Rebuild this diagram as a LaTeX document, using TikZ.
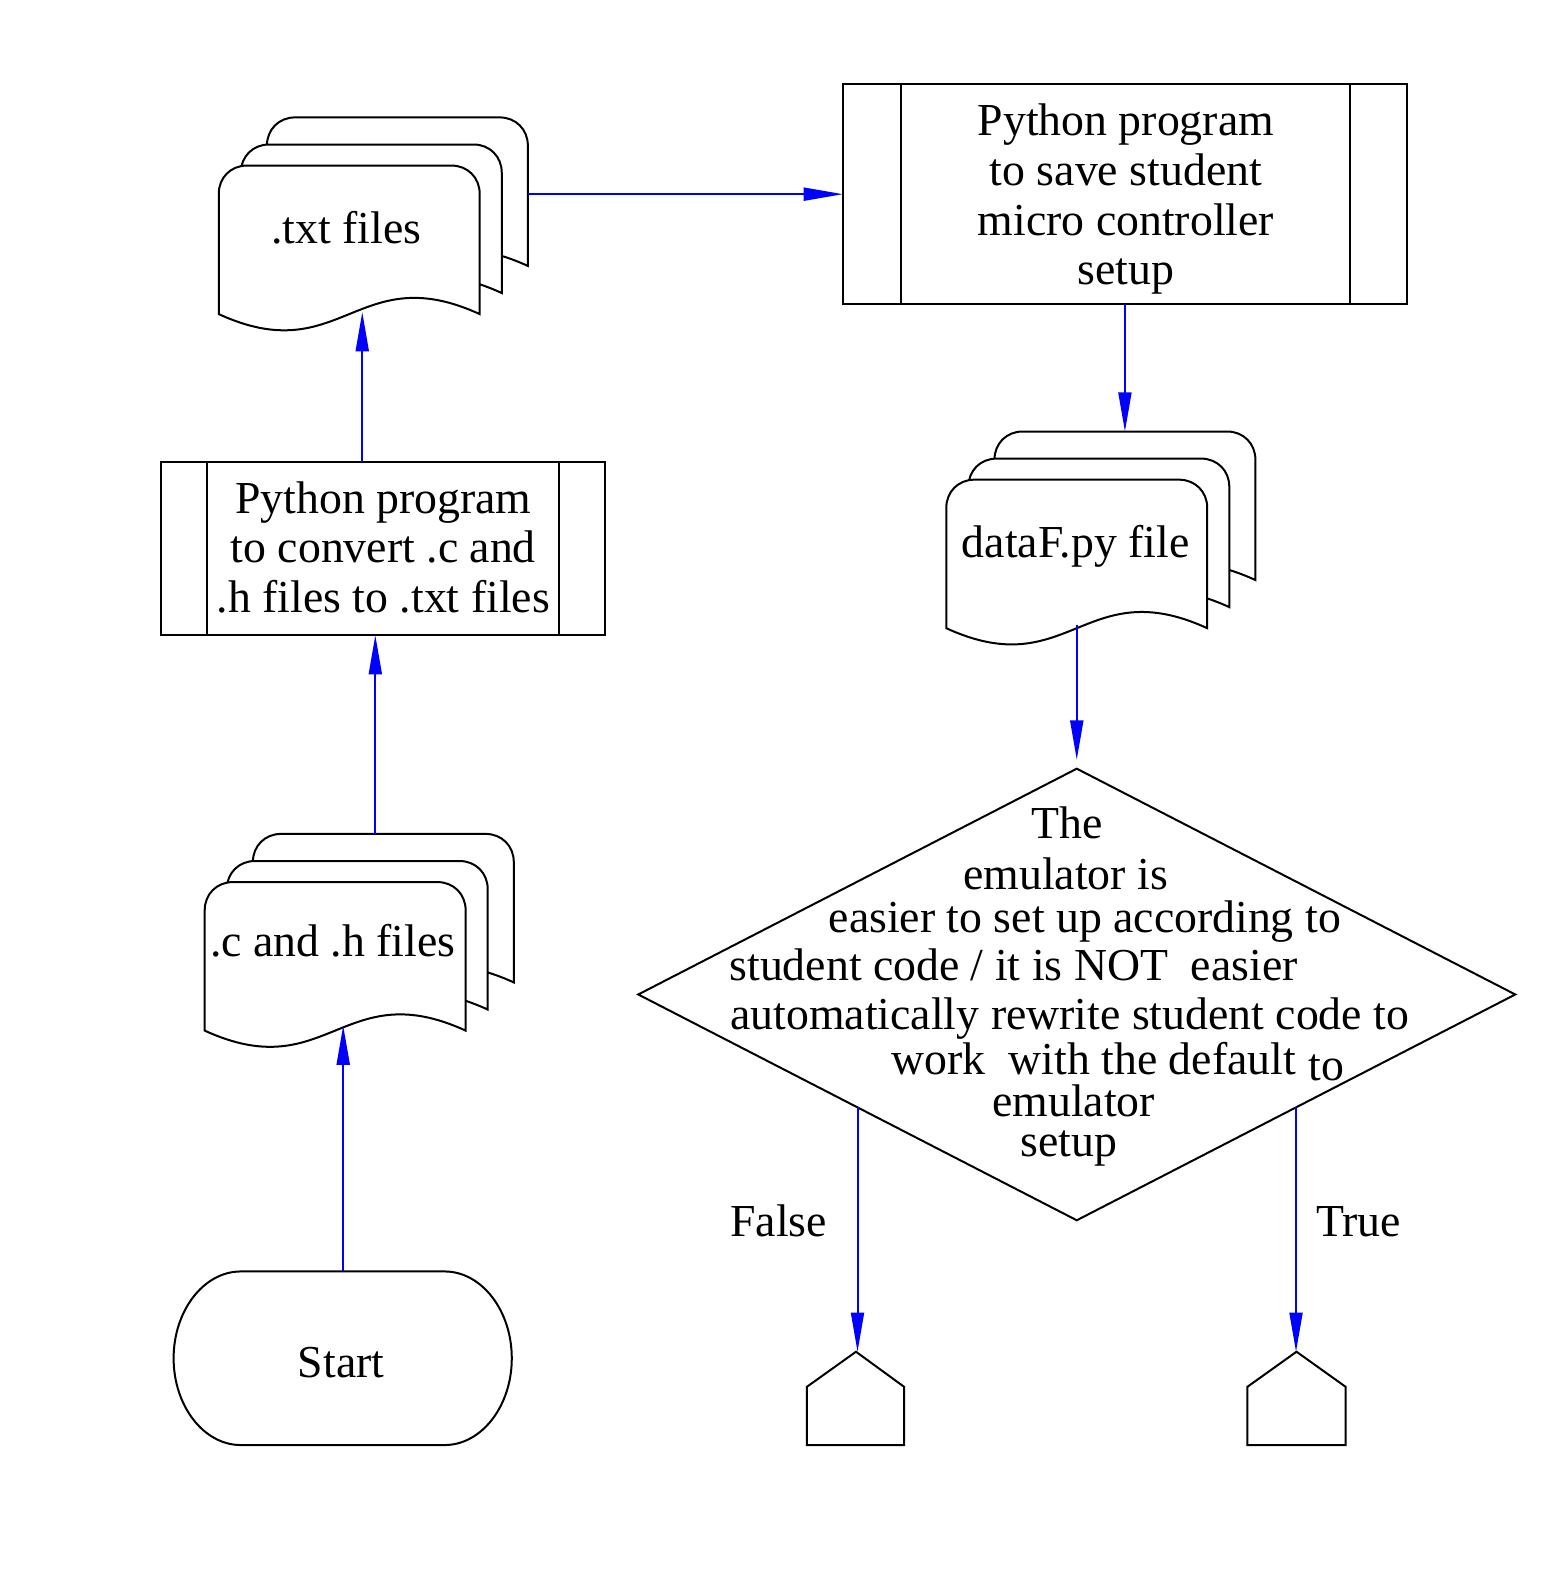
\documentclass[tikz,border=0pt]{standalone}
\usepackage{fontspec}
\setmainfont{Liberation Serif}
\usetikzlibrary{arrows.meta,shapes.geometric}
\tikzset{
  lbl/.style={font=\fontsize{22.88bp}{24.9bp}\selectfont, inner sep=0pt, outer sep=0pt},
  shapeline/.style={draw=black, line width=1bp, fill=white},
  flow/.style={draw=blue, line width=1bp, -{Triangle[length=19.6bp,width=6.5bp]}},
  procbox/.style={shapeline, rectangle, inner sep=0pt, outer sep=0pt},
}
% one page of a document stack, top-left corner at (#1,#2), in pixel units
\newcommand\docpg[2]{%
  \draw[shapeline] (#1,#2+148) -- (#1,#2+28)
    .. controls (#1,#2+12) and (#1+12,#2) .. (#1+28,#2) -- (#1+232,#2)
    .. controls (#1+248,#2) and (#1+260,#2+12) .. (#1+260,#2+28) -- (#1+260,#2+148)
    .. controls (#1+138,#2+92) and (#1+122,#2+204) .. (#1,#2+148) -- cycle;}
\newcommand\docstack[2]{%
  \docpg{#1+48}{#2-48}\docpg{#1+22}{#2-21}\docpg{#1}{#2}}
\begin{document}
\begin{tikzpicture}[x=0.50175bp,y=-0.50175bp]
\useasboundingbox (0bp,0bp) rectangle (780.5bp,-786.5bp);

% ---------- left column ----------
% .txt files stack
\docstack{218}{165}
\node[lbl, anchor=base] (txt) at (345,243) {.txt files};
\coordinate (txtR) at (526,193.5);
\coordinate (txtB) at (361,311);

% Python program box 2
\node[procbox, minimum width=222.3bp, minimum height=86.8bp] (b2) at (381.5,546.5) {};
\node[lbl, align=center] (b2t) at (382,545.5)
  {Python program\\to convert .c and\\.h files to .txt files};
\draw[line width=1bp] ([xshift=23.1bp]b2.north west) -- ([xshift=23.1bp]b2.south west);
\draw[line width=1bp] ([xshift=-23.1bp]b2.north east) -- ([xshift=-23.1bp]b2.south east);

% .c and .h files stack
\docstack{204}{879}
\node[lbl, anchor=base] (cfiles) at (331.5,953) {.c and .h files};
\coordinate (cTop) at (374,831);
\coordinate (cBot) at (342,1022);

% Start terminator
\draw[shapeline] (240,1267) -- (443,1267)
  .. controls (480,1267) and (510,1306) .. (510,1353.5)
  .. controls (510,1401) and (480,1440) .. (443,1440) -- (240,1440)
  .. controls (203,1440) and (173,1401) .. (173,1353.5)
  .. controls (173,1306) and (203,1267) .. (240,1267) -- cycle;
\node[lbl, anchor=base] (start) at (340,1373) {Start};
\coordinate (sTop) at (342,1267);

% ---------- right column ----------
\node[procbox, minimum width=282bp, minimum height=109.9bp] (b1) at (1121,193.5) {};
\node[lbl, align=center] (b1t) at (1122,198.5)
  {Python program\\to save student\\micro controller\\setup};
\draw[line width=1bp] ([xshift=29.1bp]b1.north west) -- ([xshift=29.1bp]b1.south west);
\draw[line width=1bp] ([xshift=-28.6bp]b1.north east) -- ([xshift=-28.6bp]b1.south east);

% dataF.py stack
\docstack{943}{478}
\node[lbl, anchor=base] (dataf) at (1072,556) {dataF.py file};
\coordinate (dTop) at (1121,430);
\coordinate (dBot) at (1073,623);

% decision
\node[diamond, draw=black, line width=1bp, minimum width=438.5bp, minimum height=225.8bp,
      inner sep=0pt, outer sep=0pt] (d) at (1073,991) {};
\node[lbl, anchor=base] (t1) at (1063,836) {The};
\node[lbl, anchor=base] (t2) at (1062,886) {emulator is};
\node[lbl, anchor=base] (t3) at (1081,929) {easier to set up according to};
\node[lbl, anchor=base] (t4) at (1010,977) {student code / it is NOT\ \ easier};
\node[lbl, anchor=base] (t5) at (1066,1026) {automatically rewrite student code to};
\node[lbl, anchor=base] (t6) at (1090,1071) {work\ \ with the default};
\node[lbl, anchor=base] (t7) at (1322,1077) {to};
\node[lbl, anchor=base] (t8) at (1070,1113) {emulator};
\node[lbl, anchor=base] (t9) at (1065,1152) {setup};

% off-page connectors
\draw[shapeline] (804,1440) -- (804,1382) -- (853,1347) -- (901,1382) -- (901,1440) -- cycle;
\coordinate (offF) at (853,1347);
\draw[shapeline] (1243,1440) -- (1243,1382) -- (1292,1347) -- (1341,1382) -- (1341,1440) -- cycle;
\coordinate (offT) at (1292,1347);

\node[lbl, anchor=base] (lf) at (776,1232) {False};
\node[lbl, anchor=base] (lt) at (1354,1232) {True};

% ---------- connectors ----------
\draw[flow] (sTop) -- (cBot);
\draw[flow] (cTop) -- (cTop |- b2.south);
\draw[flow] (b2.north -| txtB) -- (txtB);
\draw[flow] (txtR) -- (b1.west);
\draw[flow] (b1.south) -- (dTop);
\draw[flow, shorten >=4.5bp] (dBot) -- (d.north);
\draw[flow] (d.south west) -- (d.south west |- offF);
\draw[flow] (d.south east) -- (d.south east |- offT);
\end{tikzpicture}
\end{document}
